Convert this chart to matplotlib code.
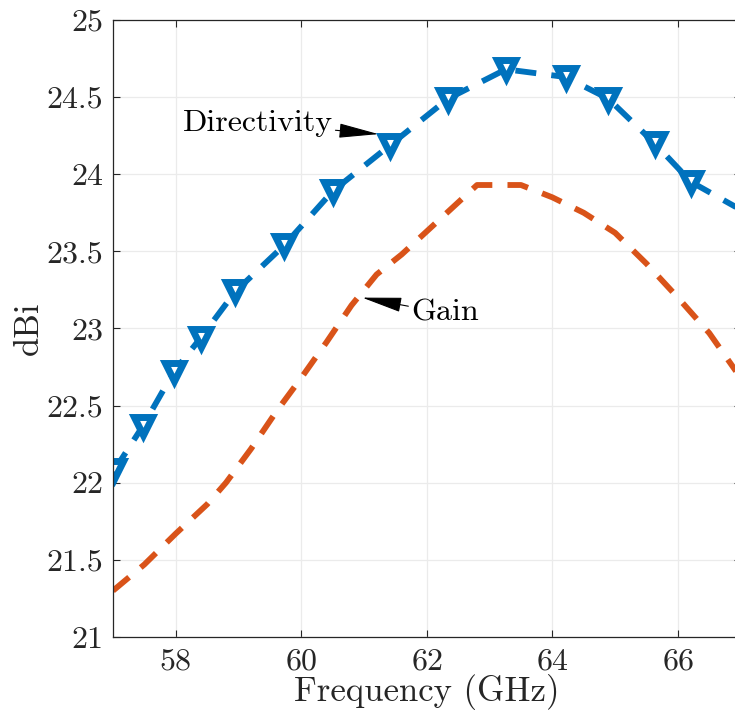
import numpy as np
import matplotlib
matplotlib.use("Agg")
import matplotlib.pyplot as plt

plt.rcParams["font.family"] = "serif"
plt.rcParams["font.serif"] = ["cmr10"]
plt.rcParams["mathtext.fontset"] = "cm"
plt.rcParams["axes.formatter.use_mathtext"] = True

# Directivity (blue, with markers)
freq_dir = [57.02, 57.48, 57.97, 58.40, 58.95, 59.73, 60.50, 61.42, 62.34, 63.26,
            64.21, 64.89, 65.63, 66.21, 67.0]
directivity = [22.08, 22.37, 22.72, 22.94, 23.24, 23.54, 23.89, 24.19, 24.49, 24.68,
               24.63, 24.49, 24.20, 23.95, 23.77]

# Gain (orange)
freq_gain = [57.0, 57.5, 58.0, 58.5, 58.8, 59.2, 59.6, 60.0, 60.4, 60.8, 61.2, 61.6,
             62.0, 62.4, 62.8, 63.5, 64.0, 64.5, 65.0, 65.5, 66.0, 66.5, 67.0]
gain = [21.30, 21.47, 21.67, 21.86, 22.00, 22.22, 22.46, 22.68, 22.91, 23.15, 23.35, 23.48,
        23.63, 23.78, 23.93, 23.93, 23.85, 23.75, 23.62, 23.42, 23.20, 22.97, 22.68]

xticks = [58, 60, 62, 64, 66]
yticks = [21, 21.5, 22, 22.5, 23, 23.5, 24, 24.5, 25]
ytick_labels = ["21", "21.5", "22", "22.5", "23", "23.5", "24", "24.5", "25"]

blue = "#0072BD"
orange = "#D95319"
axcol = "#262626"

fig = plt.figure(figsize=(7.35, 7.15), dpi=100)
ax = fig.add_axes([0.1537, 0.1091, 0.854, 0.863])

ax.plot(freq_gain, gain, color=orange, lw=4.2, ls=(0, (3.6, 2.6)), dash_capstyle="butt")
ax.plot(freq_dir, directivity, color=blue, lw=4.2, ls=(0, (3.6, 2.6)), dash_capstyle="butt",
        marker="v", ms=13.5, mfc="white", mec=blue, mew=5, markevery=list(range(len(freq_dir) - 1)))

ax.set_xlim(57, 67)
ax.set_ylim(21, 25)
ax.set_xticks(xticks)
ax.set_yticks(yticks)
ax.set_yticklabels(ytick_labels)
ax.grid(True, color="#ebebeb", lw=0.9)
ax.set_axisbelow(True)
ax.tick_params(direction="in", length=5, width=0.8, colors=axcol, labelsize=23,
               top=True, right=True, labelcolor=axcol)
ax.tick_params(axis="x", pad=8)
ax.tick_params(axis="y", pad=7)
for s in ax.spines.values():
    s.set_color(axcol)
    s.set_linewidth(0.9)

ax.set_xlabel("Frequency (GHz)", fontsize=25, color=axcol, labelpad=-1)
ax.set_ylabel("dBi", fontsize=25, color=axcol, labelpad=1)

arrow = dict(arrowstyle="-|>,head_length=1.1,head_width=0.2", color="k", lw=0.8,
             shrinkA=0, shrinkB=0)
ax.annotate("Directivity", xy=(61.23, 24.26), xytext=(60.5, 24.33), fontsize=23,
            ha="right", va="center", arrowprops=arrow)
ax.annotate("Gain", xy=(60.97, 23.20), xytext=(61.75, 23.10), fontsize=23,
            ha="left", va="center", arrowprops=arrow)

fig.savefig("out.png", dpi=100)
